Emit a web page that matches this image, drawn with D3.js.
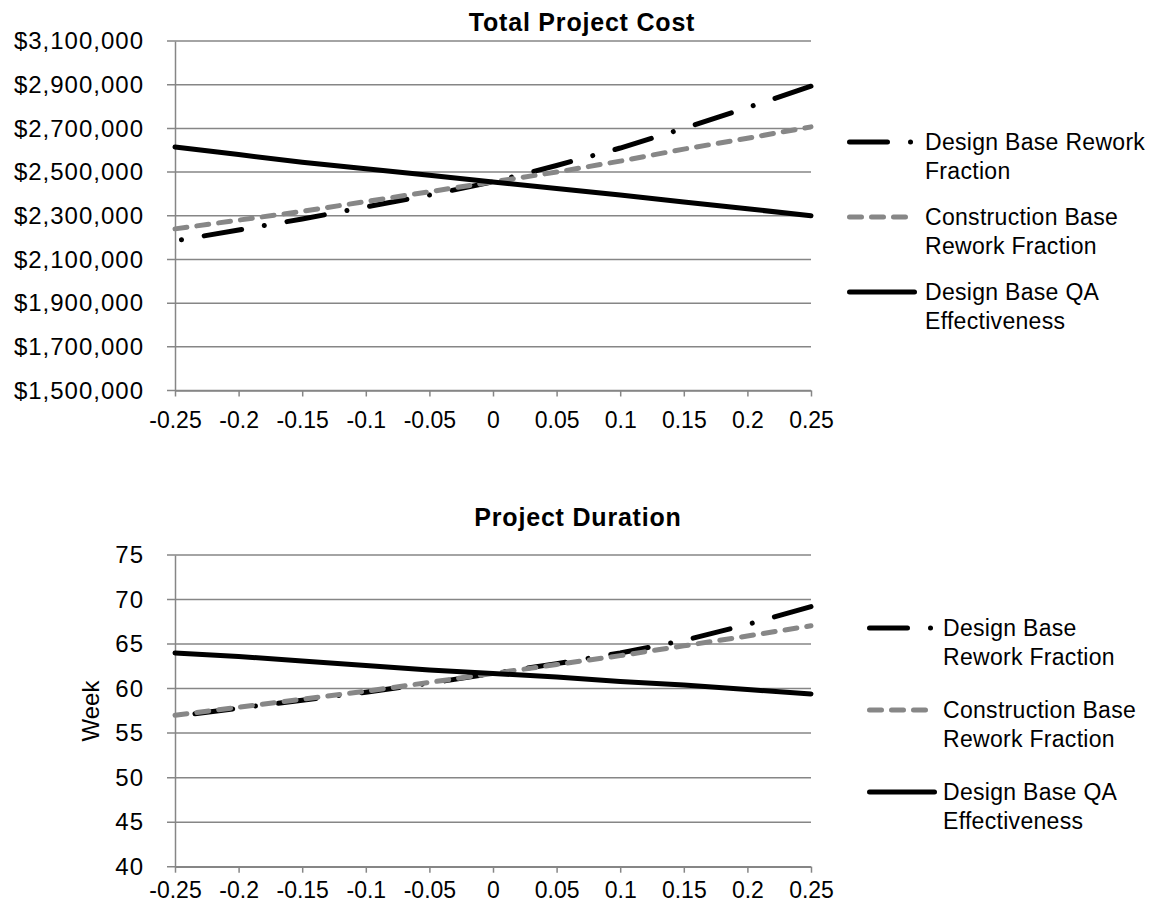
<!DOCTYPE html>
<html>
<head>
<meta charset="utf-8">
<script src="https://cdn.jsdelivr.net/npm/d3@7"></script>
<style>
  body { margin: 0; background: #fff; }
  svg text { font-family: "Liberation Sans", Arial, sans-serif; fill: #000; }
</style>
</head>
<body>
<svg id="chart" width="1153" height="907"></svg>
<script>
// sensitivity values on the x axis
const SENS = [-0.25, -0.2, -0.15, -0.1, -0.05, 0, 0.05, 0.1, 0.15, 0.2, 0.25];

// total project cost ($)
const COST_DESIGN_REWORK = [2185000, 2235000, 2285000, 2340000, 2395000, 2455000, 2530000, 2610000, 2700000, 2795000, 2893000];
const COST_CONSTR_REWORK = [2240000, 2280000, 2320000, 2365000, 2410000, 2455000, 2500000, 2550000, 2605000, 2655000, 2707000];
const COST_DESIGN_QA = [2615000, 2580000, 2545000, 2515000, 2485000, 2455000, 2425000, 2395000, 2363000, 2332000, 2300000];

// project duration (week)
const WEEK_DESIGN_REWORK = [56.9, 57.8, 58.7, 59.6, 60.6, 61.7, 62.8, 64.0, 65.4, 67.2, 69.2];
const WEEK_CONSTR_REWORK = [57.0, 57.9, 58.8, 59.7, 60.7, 61.7, 62.7, 63.7, 64.8, 65.9, 67.05];
const WEEK_DESIGN_QA = [64.0, 63.6, 63.1, 62.6, 62.1, 61.7, 61.3, 60.8, 60.4, 59.9, 59.4];

const COST_TICKS = [1500000, 1700000, 1900000, 2100000, 2300000, 2500000, 2700000, 2900000, 3100000];
const WEEK_TICKS = [40, 45, 50, 55, 60, 65, 70, 75];

const LEGEND_TOP = [["Design Base Rework", "Fraction"], ["Construction Base", "Rework Fraction"], ["Design Base QA", "Effectiveness"]];
const LEGEND_BOTTOM = [["Design Base", "Rework Fraction"], ["Construction Base", "Rework Fraction"], ["Design Base QA", "Effectiveness"]];

const SVG = d3.select('#chart');
const GRID = '#868686';
const FONT = 23;

// line styles for the three series
const STYLES = [
    { color: '#000', dash: '38 23 0.01 23', period: 84.01, dashLen: 38 },
    { color: '#878787', dash: '12 10' },
    { color: '#000', dash: null }
];

const buildChart = (opt) => {
    const g = SVG.append('g');
    const x = d3.scaleLinear().domain([-0.25, 0.25]).range([opt.left, opt.right]);
    const y = d3.scaleLinear().domain(d3.extent(opt.ticks)).range([opt.bottom, opt.top]);

    // horizontal gridlines (with the little outside tick)
    g.append('g')
        .selectAll('line')
        .data(opt.ticks)
        .join('line')
        .attr('x1', opt.left - 8)
        .attr('x2', opt.right)
        .attr('y1', d => y(d))
        .attr('y2', d => y(d))
        .style('stroke', GRID)
        .style('stroke-width', 1.5);

    // y axis
    const yAxis = d3.axisLeft(y).tickValues(opt.ticks).tickFormat(opt.format).tickSize(0).tickPadding(31);
    const yG = g.append('g').attr('transform', `translate(${opt.left},0)`).call(yAxis);
    yG.select('.domain').style('stroke', GRID).style('stroke-width', 1.5);
    yG.selectAll('text')
        .style('font-size', '24px')
        .style('letter-spacing', '1px');

    // x axis
    const xAxis = d3.axisBottom(x).tickValues(SENS).tickFormat(d => String(+d.toFixed(2)))
        .tickSizeInner(6).tickSizeOuter(0).tickPadding(opt.xPad);
    const xG = g.append('g').attr('transform', `translate(0,${opt.bottom})`).call(xAxis);
    xG.select('.domain').style('stroke', GRID).style('stroke-width', 1.5);
    xG.selectAll('.tick line').style('stroke', GRID).style('stroke-width', 1.5);
    xG.selectAll('text').style('font-size', FONT + 'px');

    // title
    g.append('text')
        .attr('x', opt.titleX)
        .attr('y', opt.titleY)
        .attr('text-anchor', 'middle')
        .style('font-size', '25px')
        .style('font-weight', 'bold')
        .style('letter-spacing', '0.8px')
        .text(opt.title);

    if (opt.yLabel) {
        g.append('text')
            .attr('transform', `translate(${opt.yLabelX},${opt.yLabelY}) rotate(-90)`)
            .attr('text-anchor', 'middle')
            .attr('dy', '0.35em')
            .style('font-size', '24px')
            .text(opt.yLabel);
    }

    // series lines
    const line = d3.line().x((d, i) => x(SENS[i])).y(d => y(d));
    g.append('g')
        .selectAll('path')
        .data(opt.series)
        .join('path')
        .attr('d', d => line(d))
        .style('fill', 'none')
        .style('stroke', (d, i) => STYLES[i].color)
        .style('stroke-width', 5)
        .style('stroke-linecap', 'round')
        .style('stroke-linejoin', 'round')
        .style('stroke-dasharray', (d, i) => STYLES[i].dash)
        .each((d, i, n) => {
            // let the dash-dot line finish on a full dash, like the original
            if (STYLES[i].period) {
                const len = n[i].getTotalLength();
                const off = STYLES[i].dashLen - (len % STYLES[i].period);
                d3.select(n[i]).style('stroke-dashoffset', off);
            }
        });

    // legend
    const leg = g.append('g')
        .selectAll('g')
        .data(opt.legend)
        .join('g')
        .attr('transform', (d, i) => `translate(0,${opt.legendY + i * opt.legendStep})`);
    leg.append('line')
        .attr('x1', opt.legendX + 2.5)
        .attr('x2', (d, i) => opt.legendX + (i === 2 ? 67.5 : (i === 1 ? 58.5 : 68)))
        .style('stroke', (d, i) => STYLES[i].color)
        .style('stroke-width', 5)
        .style('stroke-linecap', 'round')
        .style('stroke-dasharray', (d, i) => STYLES[i].dash);
    leg.append('text')
        .style('font-size', FONT + 'px')
        .style('letter-spacing', '0.3px')
        .selectAll('tspan')
        .data(d => d)
        .join('tspan')
        .attr('x', opt.legendX + opt.textOffset)
        .attr('y', (d, i) => i * 28.5)
        .attr('dy', '0.35em')
        .text(d => d);
};

buildChart({
    left: 175, right: 811, top: 41, bottom: 390.5,
    ticks: COST_TICKS, format: d3.format('$,'), xPad: 15,
    title: 'Total Project Cost', titleX: 582, titleY: 31,
    series: [COST_DESIGN_REWORK, COST_CONSTR_REWORK, COST_DESIGN_QA],
    legend: LEGEND_TOP, legendX: 847, legendY: 142, legendStep: 75, textOffset: 78
});

buildChart({
    left: 175, right: 811, top: 555, bottom: 866.7,
    ticks: WEEK_TICKS, format: d3.format('d'), xPad: 9,
    title: 'Project Duration', titleX: 578, titleY: 526,
    yLabel: 'Week', yLabelX: 91, yLabelY: 711,
    series: [WEEK_DESIGN_REWORK, WEEK_CONSTR_REWORK, WEEK_DESIGN_QA],
    legend: LEGEND_BOTTOM, legendX: 867, legendY: 628, legendStep: 82, textOffset: 76
});
</script>
</body>
</html>
